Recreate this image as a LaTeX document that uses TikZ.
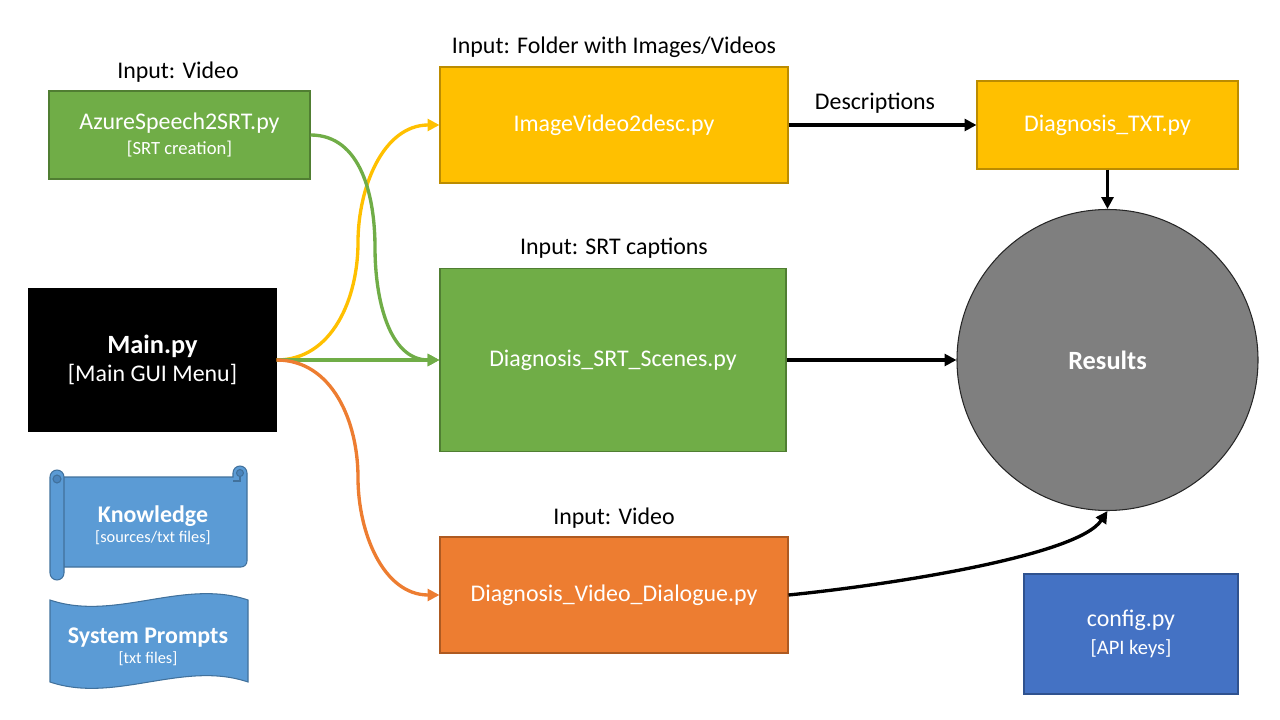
\documentclass[tikz,border=0pt]{standalone}
\usepackage{fontspec}
\setmainfont{Carlito}
\usepackage{tikz}
\usetikzlibrary{arrows.meta,calc,positioning}
\definecolor{grn}{HTML}{70AD47}
\definecolor{grnd}{HTML}{507E32}
\definecolor{ylw}{HTML}{FFC000}
\definecolor{ylwd}{HTML}{BC8C00}
\definecolor{orn}{HTML}{ED7D31}
\definecolor{ornd}{HTML}{AE5A21}
\definecolor{blu}{HTML}{4472C4}
\definecolor{blud}{HTML}{2F528F}
\definecolor{lblu}{HTML}{5B9BD5}
\definecolor{lblud}{HTML}{41719C}
\definecolor{curl}{HTML}{4A84BC}
\definecolor{gry}{HTML}{7F7F7F}
\def\mainsize{\fontsize{13.6}{16}\selectfont}
\def\subsize{\fontsize{10.6}{13}\selectfont}
\def\tinysize{\fontsize{9.3}{11}\selectfont}

\tikzset{
	box/.style={draw, line width=0.6pt, inner sep=0pt, text=white, align=center, font=\mainsize},
	lbl/.style={inner sep=0pt, font=\mainsize},
	arr/.style={line width=1.9pt, -{Triangle[length=6.8pt,width=6.8pt]}},
	scroll/.style={fill=lblu, draw=lblud, line width=0.6pt},
}

\begin{document}
\begin{tikzpicture}[x=0.2mm,y=0.2mm]
		\useasboundingbox (0,0) rectangle (1280,-720);
		%%%%% BOXES %%%%%
		\node[box, fill=grn, draw=grnd, minimum width=52.2mm, minimum height=17.6mm] (azure) at (179.5,-135) {AzureSpeech2SRT.py\\[-2pt]{\subsize [SRT creation]}};
		\node[box, fill=black, draw=black, minimum width=49.4mm, minimum height=28.4mm] (main) at (152.5,-360) {{\fontsize{15}{18}\selectfont\bfseries Main.py}\\[0pt][Main GUI Menu]};
		\node[box, fill=ylw, draw=ylwd, minimum width=69.6mm, minimum height=23.2mm] (imgvid) at (614,-125) {ImageVideo2desc.py};
		\node[box, fill=grn, draw=grnd, minimum width=69.2mm, minimum height=36.6mm] (srt) at (613,-360) {Diagnosis\_SRT\_Scenes.py};
		\node[box, fill=orn, draw=ornd, minimum width=69.6mm, minimum height=23.2mm] (vidd) at (614,-595) {Diagnosis\_Video\_Dialogue.py};
		\node[box, fill=ylw, draw=ylwd, minimum width=52.2mm, minimum height=17.6mm] (txt) at (1107.5,-125) {Diagnosis\_TXT.py};
		\node[box, circle, fill=gry, draw=black!85, minimum size=60.2mm, font=\fontsize{15}{18}\selectfont\bfseries] (results) at (1107.5,-360) {Results};
		\node[box, fill=blu, draw=blud, minimum width=42.8mm, minimum height=24mm] (config) at (1131,-634) {config.py\\[0pt]{\fontsize{11.7}{14}\selectfont [API keys]}};
		
		%%%%% LABELS %%%%%
		\node[lbl] (inazure) at (178,-72) {Input: Video};
		\node[lbl] (infolder) at (614,-47) {Input: Folder with Images/Videos};
		\node[lbl] (insrt) at (614,-248) {Input: SRT captions};
		\node[lbl] (invideo) at (614,-518) {Input: Video};
		\node[lbl] (desc) at (875,-103) {Descriptions};
		
		%%%%% SCROLL %%%%%
		\filldraw[scroll] (57,-477) -- (233,-477) -- (233,-473) arc[start angle=180,end angle=0,radius=7] -- (247,-561) arc[start angle=0,end angle=-90,radius=6] -- (64,-567) -- cycle;
		\filldraw[scroll, fill=curl] (240,-473) circle (3.5);
		\draw[lblud, line width=0.6pt] (240,-476.5) -- (240,-481) -- (233,-481);
		\filldraw[scroll] (50,-477) arc[start angle=180,end angle=0,radius=7] -- (64,-573) arc[start angle=0,end angle=-180,radius=7] -- cycle;
		\filldraw[scroll, fill=curl] (57,-479) circle (4);
		\node[lbl, text=white, align=center] (know) at (153,-525) {{\bfseries Knowledge}\\[-4.5pt]{\tinysize [sources/txt files]}};
		
		%%%%% TAPE %%%%%
		\filldraw[scroll] (50,-600) .. controls (115,-622) and (183,-578) .. (248,-600) -- (248,-682) .. controls (183,-660) and (115,-704) .. (50,-682) -- cycle;
		\node[lbl, text=white, align=center] (prompts) at (148,-647) {{\bfseries System Prompts}\\[-4.5pt]{\tinysize [txt files]}};
		
		%%%%% ARROWS %%%%%
		\draw[arr, ylw] (main.east) to[out=0,in=-90] ($(main.east)!.5!(imgvid.west)$) to[out=90,in=180] (imgvid.west);
		\draw[arr, grn] (azure.east) to[out=0,in=90] ($(azure.east)!.5!(srt.west)$) to[out=-90,in=180] (srt.west);
		\draw[arr, grn] (main.east) -- (srt.west);
		\draw[arr, orn] (main.east) to[out=0,in=90] ($(main.east)!.5!(vidd.west)$) to[out=-90,in=180] (vidd.west);
		\draw[arr] (imgvid.east) -- (txt.west);
		\draw[arr] (txt.south) -- (results.north);
		\draw[arr] (srt.east) -- (results.west);
		\draw[arr] (vidd.east) .. controls +(100,10) and +(-30,-45) .. (results.south);
\end{tikzpicture}
\end{document}
